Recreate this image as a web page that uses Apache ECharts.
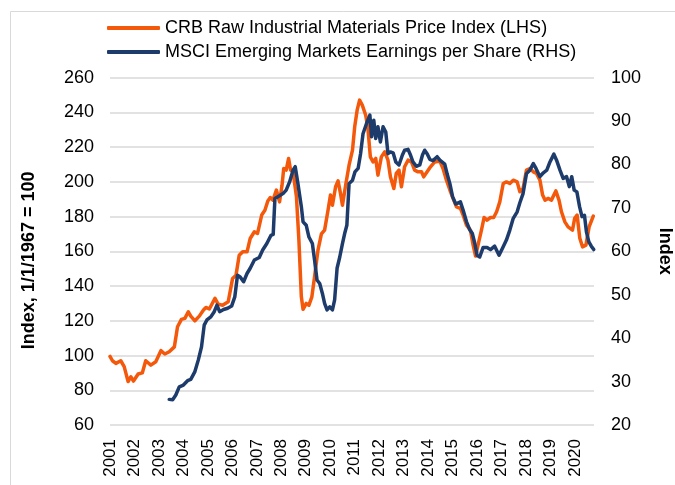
<!DOCTYPE html>
<html>
<head>
<meta charset="utf-8">
<script src="https://cdn.jsdelivr.net/npm/echarts@6/dist/echarts.min.js"></script>
<style>
  html, body { margin: 0; padding: 0; background: #fff; }
  #chart { width: 675px; height: 485px; }
</style>
</head>
<body>
<div id="chart"></div>
<script>
// CRB Raw Industrial Materials Price Index (LHS), x = decimal year
var crbYears = [
    2001.00, 2001.10, 2001.24, 2001.44, 2001.58, 2001.74, 2001.85, 2001.96,
    2002.15, 2002.32, 2002.46, 2002.67, 2002.87, 2003.08, 2003.24, 2003.42,
    2003.63, 2003.76, 2003.92, 2004.06, 2004.20, 2004.30, 2004.47, 2004.65,
    2004.82, 2004.92, 2005.06, 2005.29, 2005.42, 2005.60, 2005.83, 2005.92,
    2006.01, 2006.15, 2006.28, 2006.42, 2006.60, 2006.73, 2006.90, 2007.03,
    2007.20, 2007.33, 2007.45, 2007.55, 2007.66, 2007.80, 2007.93, 2008.03,
    2008.10, 2008.20, 2008.30, 2008.38, 2008.48, 2008.62, 2008.72, 2008.82,
    2008.89, 2009.02, 2009.13, 2009.25, 2009.36, 2009.50, 2009.64, 2009.77,
    2009.91, 2010.01, 2010.09, 2010.22, 2010.32, 2010.42, 2010.50, 2010.63,
    2010.77, 2010.91, 2011.00, 2011.10, 2011.20, 2011.31, 2011.45, 2011.54,
    2011.64, 2011.75, 2011.86, 2011.95, 2012.09, 2012.23, 2012.36, 2012.46,
    2012.60, 2012.70, 2012.81, 2012.91, 2013.04, 2013.18, 2013.32, 2013.45,
    2013.59, 2013.73, 2013.82, 2013.96, 2014.10, 2014.27, 2014.48, 2014.61,
    2014.75, 2014.89, 2015.02, 2015.16, 2015.32, 2015.43, 2015.57, 2015.73,
    2015.84, 2015.94, 2016.04, 2016.18, 2016.29, 2016.41, 2016.55, 2016.68,
    2016.80, 2016.93, 2017.07, 2017.20, 2017.34, 2017.48, 2017.64, 2017.75,
    2017.88, 2018.02, 2018.16, 2018.30, 2018.43, 2018.57, 2018.68, 2018.78,
    2018.90, 2019.04, 2019.22, 2019.35, 2019.45, 2019.59, 2019.72, 2019.90,
    2019.99, 2020.09, 2020.20, 2020.31, 2020.45, 2020.58, 2020.75
];
var crbValues = [
    99.5, 97, 95.5, 97, 93.6, 85, 87.8, 85.3,
    89.4, 90, 97, 94.5, 96.4, 102.8, 100.9, 102.2,
    105, 116.6, 120.8, 121.4, 125.2, 122.7, 120, 122.7,
    126.2, 127.7, 126.8, 132.9, 129.6, 129, 131, 137.7,
    144.4, 146.3, 157.8, 159.7, 159.7, 167.4, 171.3, 170.3,
    180.9, 183.7, 189, 191, 189.5, 195.3, 188.5, 198,
    207.7, 206.8, 213.5, 206.8, 205.8, 191.4, 166.5, 133.8,
    126.6, 130, 129, 133.8, 145.4, 160.7, 170, 172.2,
    183.7, 192.4, 186.6, 197.2, 200.6, 193.4, 186.6, 198.1,
    209.6, 218.3, 231.7, 241.3, 247.1, 244.2, 238.4, 230.8,
    214.4, 211.5, 213.5, 203.9, 214.4, 217.3, 212.5, 202.9,
    196.2, 204.9, 206.8, 197.2, 208.7, 212.5, 211.5, 206.8,
    205.8, 205.8, 202.9, 205.8, 208.7, 211.5, 212, 207.7,
    201, 195.3, 190.5, 185.6, 184.7, 180.9, 175.1, 172.2,
    163.6, 157.3, 163.6, 172.2, 179.5, 178, 179.5, 179.5,
    182.8, 188.5, 199.1, 200, 199.1, 201, 200, 194.3,
    196.2, 206.8, 207.7, 205.8, 204.9, 201, 192.4, 189.5,
    190.5, 189.5, 194.8, 189.5, 182.8, 177, 174.1, 172.2,
    179, 180.9, 167.5, 162.6, 163.6, 174.1, 180.3
];

// MSCI Emerging Markets Earnings per Share (RHS)
var msciYears = [
    2003.42, 2003.56, 2003.69, 2003.83, 2004.00, 2004.17, 2004.30, 2004.47,
    2004.61, 2004.74, 2004.85, 2004.96, 2005.12, 2005.26, 2005.37, 2005.48,
    2005.64, 2005.81, 2005.97, 2006.10, 2006.21, 2006.32, 2006.46, 2006.60,
    2006.73, 2006.90, 2007.10, 2007.24, 2007.41, 2007.58, 2007.67, 2007.74,
    2007.86, 2008.07, 2008.20, 2008.34, 2008.48, 2008.57, 2008.68, 2008.82,
    2008.89, 2009.02, 2009.13, 2009.27, 2009.36, 2009.46, 2009.57, 2009.68,
    2009.77, 2009.87, 2009.98, 2010.09, 2010.18, 2010.28, 2010.39, 2010.50,
    2010.59, 2010.68, 2010.77, 2010.91, 2011.01, 2011.14, 2011.24, 2011.34,
    2011.48, 2011.62, 2011.69, 2011.78, 2011.86, 2011.95, 2012.05, 2012.16,
    2012.27, 2012.36, 2012.46, 2012.57, 2012.68, 2012.81, 2012.95, 2013.04,
    2013.18, 2013.28, 2013.38, 2013.52, 2013.66, 2013.77, 2013.86, 2013.96,
    2014.07, 2014.20, 2014.37, 2014.48, 2014.55, 2014.68, 2014.78, 2014.89,
    2015.00, 2015.13, 2015.32, 2015.43, 2015.57, 2015.70, 2015.81, 2015.91,
    2016.00, 2016.11, 2016.25, 2016.41, 2016.55, 2016.72, 2016.90, 2017.04,
    2017.20, 2017.34, 2017.48, 2017.64, 2017.75, 2017.88, 2018.02, 2018.16,
    2018.30, 2018.41, 2018.57, 2018.71, 2018.85, 2018.98, 2019.14, 2019.25,
    2019.39, 2019.52, 2019.66, 2019.77, 2019.87, 2019.97, 2020.08, 2020.19,
    2020.29, 2020.39, 2020.47, 2020.57, 2020.67, 2020.77
];
var msciValues = [
    25.9, 25.8, 26.9, 28.8, 29.2, 30.2, 30.5, 32.3,
    35, 38, 43, 44.2, 44.9, 46.1, 47.6, 46.1,
    46.6, 46.9, 47.4, 49.5, 54.5, 54.1, 53, 54.9,
    56.1, 58, 58.6, 60.3, 61.8, 63.7, 63.9, 72.2,
    72.6, 73.3, 74.1, 76, 78.7, 79.5, 75.6, 70.3,
    66.8, 66, 63.3, 61.8, 58, 53.4, 52.6, 50.3,
    48, 46.5, 47.2, 46.5, 48.8, 56.1, 58.7, 61.8,
    64.1, 66, 75.6, 76.4, 78.3, 79.1, 82.5, 87.1,
    89.4, 91.4, 86.4, 90.2, 86, 88.7, 85.2, 88.7,
    87.5, 82.5, 82.9, 82.7, 80.6, 79.9, 82.2, 83.3,
    83.5, 82.2, 80.6, 79.6, 79.9, 82.2, 83.3, 82.5,
    81.2, 80.9, 81.8, 81, 81, 80.1, 77.8, 75.6,
    72.6, 70.9, 71.4, 69.5, 66.8, 65, 64.1, 61.8,
    59.1, 58.7, 60.9, 60.9, 60.4, 61.2, 59.1, 60.7,
    62.6, 64.9, 67.6, 69.1, 71.2, 73.3, 77.9, 78.7,
    80.2, 79.1, 77.2, 78.1, 78.7, 80.6, 82.4, 81,
    78.7, 76.8, 77.2, 74.9, 77.2, 74.1, 73.7, 70.3,
    68, 68.3, 64.5, 62.2, 61.2, 60.4
];

function pairs(xs, ys) {
    return xs.map(function (x, i) { return [x, ys[i]]; });
}

var labelFont = 'Liberation Sans, Arial, sans-serif';
var chart = echarts.init(document.getElementById('chart'));

chart.setOption({
    animation: false,
    backgroundColor: '#fff',
    graphic: [{
        type: 'rect',
        shape: { x: 10.5, y: 11.5, width: 700, height: 500 },
        style: { fill: 'none', stroke: '#d9d9d9', lineWidth: 1 },
        silent: true
    }],
    legend: {
        orient: 'vertical',
        left: 107,
        top: 19,
        padding: 0,
        icon: 'roundRect',
        itemWidth: 53,
        itemHeight: 4,
        itemGap: 6,
        textStyle: { fontFamily: labelFont, fontSize: 18, color: '#000' },
        data: ['CRB Raw Industrial Materials Price Index (LHS)',
               'MSCI Emerging Markets Earnings per Share (RHS)']
    },
    grid: { left: 110, right: 81, top: 77.7, bottom: 60, outerBoundsMode: 'none', containLabel: false },
    xAxis: {
        type: 'value',
        min: 2001,
        max: 2020.78,
        interval: 1,
        axisLine: { show: false },
        axisTick: { show: false },
        splitLine: { show: false },
        axisLabel: {
            rotate: 90,
            margin: 14,
            fontFamily: labelFont,
            fontSize: 17,
            color: '#000',
            formatter: function (v) {
                return Math.abs(v - Math.round(v)) < 1e-6 ? String(Math.round(v)) : '';
            }
        }
    },
    yAxis: [{
        type: 'value',
        min: 60,
        max: 260,
        interval: 20,
        name: 'Index, 1/1/1967 = 100',
        nameLocation: 'middle',
        nameRotate: 90,
        nameGap: 72,
        nameTextStyle: {
            fontFamily: labelFont, fontSize: 18, fontWeight: 'bold', color: '#000',
            padding: [0, 18, 0, 0]
        },
        axisLine: { show: false },
        axisTick: { show: false },
        axisLabel: { margin: 16, fontFamily: labelFont, fontSize: 18, color: '#000' },
        splitLine: { lineStyle: { color: '#d9d9d9', width: 1.5 } }
    }, {
        type: 'value',
        min: 20,
        max: 100,
        interval: 10,
        position: 'right',
        name: 'Index',
        nameLocation: 'middle',
        nameRotate: -90,
        nameGap: 62,
        nameTextStyle: { fontFamily: labelFont, fontSize: 18, fontWeight: 'bold', color: '#000' },
        axisLine: { show: false },
        axisTick: { show: false },
        axisLabel: { margin: 17, fontFamily: labelFont, fontSize: 18, color: '#000' },
        splitLine: { show: false }
    }],
    series: [{
        name: 'CRB Raw Industrial Materials Price Index (LHS)',
        type: 'line',
        yAxisIndex: 0,
        symbol: 'none',
        lineStyle: { color: '#f4580a', width: 3.5, cap: 'round', join: 'round' },
        itemStyle: { color: '#f4580a' },
        data: pairs(crbYears, crbValues)
    }, {
        name: 'MSCI Emerging Markets Earnings per Share (RHS)',
        type: 'line',
        yAxisIndex: 1,
        symbol: 'none',
        lineStyle: { color: '#1d3b6b', width: 3.5, cap: 'round', join: 'round' },
        itemStyle: { color: '#1d3b6b' },
        data: pairs(msciYears, msciValues)
    }]
});
</script>
</body>
</html>
